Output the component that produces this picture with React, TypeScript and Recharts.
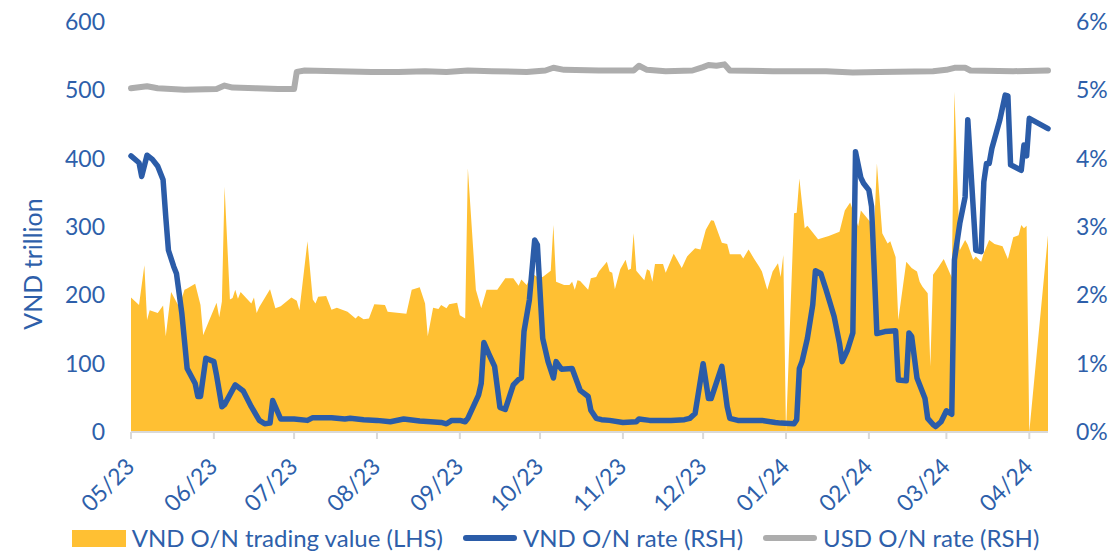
import { ComposedChart, Area, Line, XAxis, YAxis, Legend } from 'recharts';

// day offsets are counted from 1 May 2023 (calendar days)
const START = Date.UTC(2023, 4, 1);
const DAY_MS = 86400000;

const monthLabels = ['05/23', '06/23', '07/23', '08/23', '09/23', '10/23', '11/23', '12/23', '01/24', '02/24', '03/24', '04/24'];

// VND O/N trading value, VND trillion (LHS)
const tradingValue: [number, number][] = [
  [0, 197], [3, 186], [5, 244], [6, 164], [7, 178], [10, 174], [12, 185], [13, 140], [15, 205], [18, 183],
  [20, 208], [21, 210], [24, 217], [26, 186], [27, 142], [29, 161], [32, 189], [33, 168], [34, 191], [35, 359],
  [37, 194], [38, 196], [39, 208], [40, 195], [41, 205], [45, 188], [46, 197], [47, 174], [48, 183], [52, 209],
  [54, 181], [56, 184], [60, 197], [62, 192], [63, 178], [66, 279], [68, 194], [69, 188], [70, 198], [73, 199],
  [75, 179], [77, 182], [81, 176], [84, 166], [85, 170], [87, 165], [89, 166], [91, 187], [95, 186], [96, 176],
  [103, 173], [105, 208], [108, 212], [110, 188], [111, 140], [113, 182], [115, 180], [116, 186], [118, 181], [119, 187],
  [122, 189], [123, 171], [125, 166], [126, 386], [129, 208], [131, 181], [133, 208], [137, 208], [140, 225], [143, 225],
  [145, 214], [146, 223], [148, 215], [150, 232], [152, 227], [154, 227], [157, 236], [158, 303], [159, 220], [162, 215],
  [164, 215], [165, 220], [166, 208], [167, 222], [168, 221], [171, 208], [172, 225], [174, 227], [175, 235], [178, 249],
  [179, 235], [180, 233], [181, 209], [183, 238], [185, 252], [186, 237], [187, 239], [188, 291], [189, 236], [192, 222],
  [193, 238], [194, 236], [195, 220], [196, 246], [199, 246], [200, 233], [203, 261], [206, 240], [208, 257], [211, 269],
  [213, 267], [215, 296], [217, 310], [218, 309], [221, 277], [223, 275], [224, 260], [228, 260], [229, 254], [231, 267],
  [233, 254], [235, 242], [236, 235], [238, 208], [240, 235], [242, 247], [243, 227], [244, 259], [245, 0], [248, 320],
  [249, 321], [250, 371], [252, 298], [253, 302], [257, 282], [261, 287], [265, 293], [267, 324], [269, 336], [272, 301],
  [273, 324], [276, 310], [278, 300], [279, 393], [281, 291], [283, 276], [284, 279], [286, 256], [287, 164], [290, 249],
  [292, 240], [294, 235], [295, 220], [296, 213], [298, 203], [299, 96], [300, 230], [302, 241], [304, 253], [307, 226],
  [308, 498], [310, 266], [312, 281], [313, 274], [315, 252], [316, 257], [318, 249], [319, 262], [321, 281], [323, 275],
  [326, 272], [328, 253], [330, 285], [332, 288], [333, 303], [334, 298], [335, 302], [336, 0], [343, 288],
];

// VND O/N rate, % (RHS)
const vndRate: [number, number][] = [
  [0, 4.04], [3, 3.94], [4, 3.74], [6, 4.05], [8, 3.99], [10, 3.89], [12, 3.69], [13, 3.15], [14, 2.66], [16, 2.42],
  [17, 2.32], [19, 1.74], [21, 0.93], [24, 0.71], [25, 0.52], [26, 0.52], [28, 1.08], [31, 1.03], [32, 0.83], [34, 0.37],
  [35, 0.4], [39, 0.69], [42, 0.6], [45, 0.37], [48, 0.17], [50, 0.12], [52, 0.13], [53, 0.46], [56, 0.19], [61, 0.19],
  [66, 0.17], [68, 0.21], [75, 0.21], [80, 0.19], [82, 0.2], [87, 0.18], [92, 0.17], [97, 0.15], [102, 0.19], [108, 0.16],
  [116, 0.14], [118, 0.12], [120, 0.17], [123, 0.17], [125, 0.15], [126, 0.2], [130, 0.54], [131, 0.71], [132, 1.31], [134, 1.13],
  [136, 0.96], [138, 0.36], [140, 0.33], [143, 0.69], [145, 0.77], [146, 0.79], [147, 1.47], [149, 1.93], [151, 2.81], [152, 2.74],
  [154, 1.37], [156, 1.03], [158, 0.79], [159, 1.03], [161, 0.92], [165, 0.93], [168, 0.61], [169, 0.58], [171, 0.52], [172, 0.32],
  [174, 0.2], [176, 0.18], [179, 0.17], [184, 0.14], [189, 0.15], [190, 0.19], [194, 0.17], [202, 0.17], [207, 0.18], [209, 0.2],
  [211, 0.27], [214, 1.0], [216, 0.49], [217, 0.49], [221, 0.96], [223, 0.37], [224, 0.2], [227, 0.17], [236, 0.17], [241, 0.14],
  [243, 0.13], [248, 0.12], [249, 0.18], [250, 0.93], [251, 1.03], [253, 1.37], [255, 1.86], [256, 2.36], [258, 2.32], [260, 2.08],
  [263, 1.69], [265, 1.3], [266, 1.03], [268, 1.2], [270, 1.45], [271, 4.1], [273, 3.72], [274, 3.64], [276, 3.54], [277, 3.3],
  [279, 1.44], [282, 1.47], [286, 1.48], [287, 0.76], [290, 0.75], [291, 1.45], [292, 1.4], [294, 0.79], [297, 0.49], [298, 0.2],
  [300, 0.11], [301, 0.08], [303, 0.15], [305, 0.31], [307, 0.26], [308, 2.52], [310, 3.05], [312, 3.44], [313, 4.57], [316, 2.66],
  [318, 2.64], [319, 3.66], [320, 3.93], [321, 3.93], [322, 4.15], [325, 4.57], [327, 4.93], [328, 4.92], [329, 3.91], [333, 3.83],
  [334, 4.2], [335, 4.04], [336, 4.59], [343, 4.44],
];

// USD O/N rate, % (RHS)
const usdRate: [number, number][] = [
  [0, 5.03], [6, 5.06], [10, 5.03], [20, 5.01], [32, 5.02], [35, 5.07], [38, 5.04], [47, 5.03], [55, 5.02], [61, 5.02],
  [62, 5.27], [65, 5.29], [90, 5.27], [100, 5.27], [110, 5.28], [118, 5.27], [126, 5.29], [135, 5.28], [148, 5.27], [155, 5.29],
  [158, 5.33], [162, 5.3], [175, 5.29], [188, 5.29], [190, 5.36], [193, 5.3], [200, 5.28], [210, 5.29], [214, 5.34], [216, 5.37],
  [219, 5.36], [222, 5.38], [224, 5.29], [240, 5.28], [260, 5.28], [270, 5.26], [280, 5.27], [300, 5.28], [305, 5.3], [308, 5.33],
  [312, 5.33], [314, 5.29], [330, 5.28], [343, 5.29],
];

const leftTicks = [0, 100, 200, 300, 400, 500, 600];
const rightTicks = [0, 1, 2, 3, 4, 5, 6];

const TEXT = '#2E5FAA';
const GOLD = '#FFC033';
const BLUE = '#2B5CA8';
const GRAY = '#ADADAD';
const FONT = 'Lato, "Open Sans", sans-serif';

const monthTicks = monthLabels.map((m) => {
  const [mm, yy] = m.split('/').map(Number);
  return Math.round((Date.UTC(2000 + yy, mm - 1, 1) - START) / DAY_MS);
});
const labelByDay: Record<number, string> = {};
monthTicks.forEach((d, i) => (labelByDay[d] = monthLabels[i]));

// merge the three series onto one table keyed by day
const rows: Record<number, { day: number; tv?: number; vnd?: number; usd?: number }> = {};
const put = (list: [number, number][], key: 'tv' | 'vnd' | 'usd') =>
  list.forEach(([d, v]) => {
    rows[d] = rows[d] || { day: d };
    rows[d][key] = v;
  });
put(tradingValue, 'tv');
put(vndRate, 'vnd');
put(usdRate, 'usd');
const data = Object.values(rows).sort((a, b) => a.day - b.day);

const MonthTick = (props: any) => {
  const { x, y, payload } = props;
  const tx = x + 5;
  const ty = y + 29;
  return (
    <text x={tx} y={ty} transform={`rotate(-45 ${tx} ${ty})`} textAnchor="end" fill={TEXT} fontSize={23} fontFamily={FONT}>
      {labelByDay[payload.value]}
    </text>
  );
};

const legendItems = [
  { name: 'VND O/N trading value (LHS)', color: GOLD, kind: 'box' },
  { name: 'VND O/N rate (RSH)', color: BLUE, kind: 'line' },
  { name: 'USD O/N rate (RSH)', color: GRAY, kind: 'line' },
];

const ChartLegend = () => (
  <div style={{ display: 'flex', justifyContent: 'center', alignItems: 'center', fontFamily: FONT, fontSize: 24, color: TEXT, lineHeight: '30px' }}>
    {legendItems.map((it) => (
      <div key={it.name} style={{ display: 'flex', alignItems: 'center', margin: '0 10px' }}>
        <span
          style={{
            display: 'inline-block',
            width: 54,
            height: it.kind === 'box' ? 17 : 6,
            borderRadius: it.kind === 'box' ? 0 : 3,
            background: it.color,
            marginRight: 6,
          }}
        />
        <span>{it.name}</span>
      </div>
    ))}
  </div>
);

export default function App() {
  return (
    <div style={{ position: 'absolute', left: 0, top: 0, width: 1111, height: 551 }}>
      <ComposedChart width={1111} height={551} data={data} margin={{ top: 22, right: 11, left: 51, bottom: 39 }}>
        <XAxis
          dataKey="day"
          type="number"
          domain={[0, 343]}
          ticks={monthTicks}
          interval={0}
          tick={<MonthTick />}
          tickSize={7}
          tickMargin={0}
          height={80}
          axisLine={{ stroke: '#D9D9D9', strokeWidth: 2 }}
          tickLine={{ stroke: '#D9D9D9', strokeWidth: 2 }}
        />
        <YAxis
          yAxisId="left"
          domain={[0, 600]}
          ticks={leftTicks}
          interval={0}
          width={80}
          axisLine={false}
          tickLine={false}
          tickSize={0}
          tickMargin={26}
          tick={{ fill: TEXT, fontSize: 23, fontFamily: FONT }}
          label={{
            content: () => (
              <text x={32} y={264} transform="rotate(-90 32 264)" textAnchor="middle" dominantBaseline="central" fill={TEXT} fontSize={25} fontFamily={FONT}>
                VND trillion
              </text>
            ),
          }}
        />
        <YAxis
          yAxisId="right"
          orientation="right"
          domain={[0, 6]}
          ticks={rightTicks}
          interval={0}
          width={52}
          axisLine={false}
          tickLine={false}
          tickSize={0}
          tickMargin={28}
          tickFormatter={(v: number) => `${v}%`}
          tick={{ fill: TEXT, fontSize: 23, fontFamily: FONT, textAnchor: 'start' }}
        />
        <Legend verticalAlign="middle" align="center" layout="horizontal" content={<ChartLegend />} wrapperStyle={{ top: 523, left: 0, width: 1111, height: 30 }} />
        <Area
          yAxisId="left"
          dataKey="tv"
          type="linear"
          stroke="none"
          fill={GOLD}
          fillOpacity={1}
          connectNulls
          isAnimationActive={false}
          name="VND O/N trading value (LHS)"
        />
        <Line yAxisId="right" dataKey="usd" type="linear" stroke={GRAY} strokeWidth={6} dot={false} connectNulls isAnimationActive={false} strokeLinecap="round" strokeLinejoin="round" name="USD O/N rate (RSH)" />
        <Line yAxisId="right" dataKey="vnd" type="linear" stroke={BLUE} strokeWidth={5.5} dot={false} connectNulls isAnimationActive={false} strokeLinejoin="round" strokeLinecap="round" name="VND O/N rate (RSH)" />
      </ComposedChart>
    </div>
  );
}
